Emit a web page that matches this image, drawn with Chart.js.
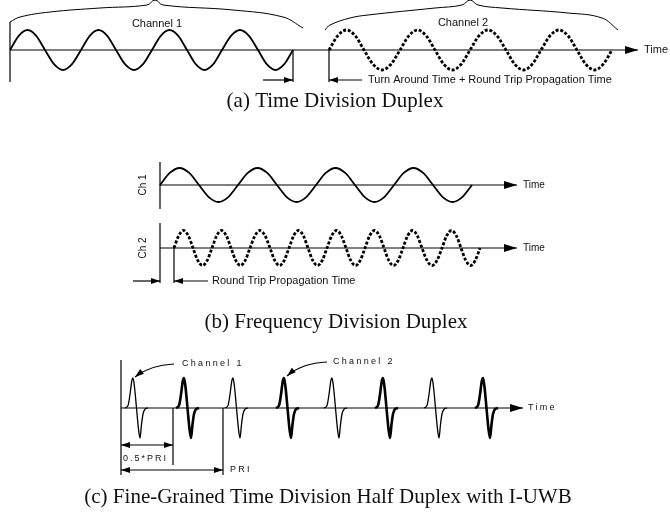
<!DOCTYPE html>
<html>
<head>
<meta charset="utf-8">
<script src="https://cdn.jsdelivr.net/npm/chart.js@4.4.1/dist/chart.umd.min.js"></script>
<style>
  html, body { margin: 0; padding: 0; background: #fff; }
  canvas { display: block; }
</style>
</head>
<body>
<canvas id="duplex" width="670" height="512"></canvas>
<script>
// (a) time division duplex - zero crossings of each burst
const tddCh1Cross = [10, 45, 81, 116, 152, 187, 222, 258, 293];
const tddCh2Cross = [329, 364, 400, 435, 470, 506, 541, 577, 612];
const tddBase = 50, tddAmp = 20;

// (b) frequency division duplex
const fddCh1Cross = [160, 199, 238, 277, 316, 355, 394, 433, 472];
const fddCh2Cross = [174, 193, 212, 231, 250, 270, 289, 308, 327, 346, 365, 384, 403, 422, 442, 461, 480];
const fddCh1Base = 185, fddCh1Amp = 17;
const fddCh2Base = 248, fddCh2Amp = 17.5;

// shape of one half cycle (fraction of half period, fraction of amplitude)
const halfShapeF = [0, 0.25, 0.5, 0.75];
const halfShapeV = [0, 0.71, 1, 0.71];

// (c) impulse radio pulses (peak positions) + monocycle shape
const pulseCh1Peaks = [133, 233, 332, 432];
const pulseCh2Peaks = [184, 284, 383, 483];
const pulseBase = 408, pulseAmp = 30;
const pulseShapeT = [-8, -5, -3, -1.2, 0, 1.5, 3.5, 5.5, 7, 8.5, 10, 12, 15];
const pulseShapeV = [0, 0.08, 0.45, 0.9, 1, 0.7, 0, -0.7, -1, -0.55, -0.2, -0.04, 0];

// braces over the TDD bursts
const brace1X = [10, 20, 50, 100, 147, 155, 163, 233, 283, 303];
const brace1Y = [22, 17, 12, 8, 5, 0, 5, 10, 17, 28];
const brace2X = [325, 330, 350, 368, 435, 462, 470, 478, 502, 568, 602, 618];
const brace2Y = [30, 25, 18, 15, 8, 5, 0, 5, 8, 13, 18, 30];

// plain lines [x1, y1, x2, y2]
const guideLines = [
  [10, 22, 10, 82], [293, 50, 293, 82], [329, 50, 329, 82],
  [160, 162, 160, 209], [160, 223, 160, 283], [174, 248, 174, 283],
  [121, 360, 121, 475], [173, 408, 173, 465], [223, 408, 223, 475]
];
// arrows [x1, y1, x2, y2, headLen, headHalf, bothEnds]
const arrows = [
  [10, 50, 638, 50, 13, 4, false],
  [263, 80, 293, 80, 9, 3, false],
  [362, 80, 329, 80, 9, 3, false],
  [160, 185, 517, 185, 13, 4, false],
  [160, 248, 517, 248, 13, 4, false],
  [133, 281, 160, 281, 9, 3, false],
  [208, 281, 174, 281, 9, 3, false],
  [121, 408, 523, 408, 13, 4, false],
  [121, 445, 173, 445, 9, 3, true],
  [121, 470, 223, 470, 9, 3, true]
];
// curved label arrows [x1, y1, cx, cy, x2, y2]
const curvedArrows = [
  [174, 364, 150, 365, 135, 377],
  [327, 362, 302, 363, 287, 376]
];

const sans = '"Liberation Sans", Arial, sans-serif';
const serif = '"Liberation Serif", "Times New Roman", serif';
const labels = [
  { t: 'Channel 1', x: 157, y: 24, f: '11px ' + sans, a: 'center' },
  { t: 'Channel 2', x: 463, y: 23, f: '11px ' + sans, a: 'center' },
  { t: 'Time', x: 644, y: 50, f: '11px ' + sans, a: 'left' },
  { t: 'Turn Around Time + Round Trip Propagation Time', x: 368, y: 80, f: '11px ' + sans, a: 'left' },
  { t: '(a) Time Division Duplex', x: 335, y: 101, f: '21px ' + serif, a: 'center' },
  { t: 'Ch 1', x: 143, y: 185, f: '10px ' + sans, a: 'center', r: true },
  { t: 'Ch 2', x: 143, y: 248, f: '10px ' + sans, a: 'center', r: true },
  { t: 'Time', x: 523, y: 185, f: '10px ' + sans, a: 'left' },
  { t: 'Time', x: 523, y: 248, f: '10px ' + sans, a: 'left' },
  { t: 'Round Trip Propagation Time', x: 212, y: 281, f: '11px ' + sans, a: 'left' },
  { t: '(b) Frequency Division Duplex', x: 336, y: 322, f: '21px ' + serif, a: 'center' },
  { t: 'Channel 1', x: 182, y: 364, f: '9px ' + sans, a: 'left', s: '2.3px' },
  { t: 'Channel 2', x: 333, y: 362, f: '9px ' + sans, a: 'left', s: '2.3px' },
  { t: 'Time', x: 528, y: 408, f: '9px ' + sans, a: 'left', s: '2.3px' },
  { t: '0.5*PRI', x: 123, y: 459, f: '9px ' + sans, a: 'left', s: '2px' },
  { t: 'PRI', x: 230, y: 470, f: '9px ' + sans, a: 'left', s: '2.3px' },
  { t: '(c) Fine-Grained Time Division Half Duplex with I-UWB', x: 328, y: 497, f: '21px ' + serif, a: 'center' }
];

function wave(cross, base, amp) {
  const pts = [];
  for (let i = 0; i < cross.length - 1; i++) {
    const sign = i % 2 === 0 ? -1 : 1;
    halfShapeF.forEach((f, k) => {
      pts.push({ x: cross[i] + f * (cross[i + 1] - cross[i]), y: base + sign * halfShapeV[k] * amp });
    });
  }
  pts.push({ x: cross[cross.length - 1], y: base });
  return pts;
}
function pulse(peak) {
  return pulseShapeT.map((t, i) => ({ x: peak + t, y: pulseBase - pulseShapeV[i] * pulseAmp }));
}
const solid = { showLine: true, borderColor: '#000', pointRadius: 0, fill: false, cubicInterpolationMode: 'monotone' };
const dotted = { ...solid, borderWidth: 2.8, borderDash: [3, 1.8] };

const datasets = [
  { ...solid, data: wave(tddCh1Cross, tddBase, tddAmp), borderWidth: 1.8 },
  { ...dotted, data: wave(tddCh2Cross, tddBase, tddAmp) },
  { ...solid, data: wave(fddCh1Cross, fddCh1Base, fddCh1Amp), borderWidth: 1.8 },
  { ...dotted, data: wave(fddCh2Cross, fddCh2Base, fddCh2Amp) },
  { ...solid, data: brace1X.map((x, i) => ({ x, y: brace1Y[i] })), borderWidth: 1, cubicInterpolationMode: 'default', tension: 0.4 },
  { ...solid, data: brace2X.map((x, i) => ({ x, y: brace2Y[i] })), borderWidth: 1, cubicInterpolationMode: 'default', tension: 0.4 }
];
pulseCh1Peaks.forEach(p => datasets.push({ ...solid, data: pulse(p), borderWidth: 1.3 }));
pulseCh2Peaks.forEach(p => datasets.push({ ...solid, data: pulse(p), borderWidth: 2.6 }));

function head(ctx, x1, y1, x2, y2, len, half) {
  const ang = Math.atan2(y2 - y1, x2 - x1);
  ctx.save();
  ctx.translate(x2, y2);
  ctx.rotate(ang);
  ctx.beginPath();
  ctx.moveTo(0, 0);
  ctx.lineTo(-len, -half);
  ctx.lineTo(-len, half);
  ctx.closePath();
  ctx.fill();
  ctx.restore();
}

const overlay = {
  id: 'overlay',
  afterDatasetsDraw(chart) {
    const { ctx, scales: { x, y } } = chart;
    const X = v => x.getPixelForValue(v), Y = v => y.getPixelForValue(v);
    ctx.save();
    ctx.strokeStyle = '#000';
    ctx.fillStyle = '#000';
    ctx.lineWidth = 1.2;
    guideLines.forEach(l => {
      ctx.beginPath();
      ctx.moveTo(X(l[0]), Y(l[1]));
      ctx.lineTo(X(l[2]), Y(l[3]));
      ctx.stroke();
    });
    arrows.forEach(a => {
      const [x1, y1, x2, y2] = [X(a[0]), Y(a[1]), X(a[2]), Y(a[3])];
      ctx.beginPath();
      ctx.moveTo(x1, y1);
      ctx.lineTo(x2, y2);
      ctx.stroke();
      head(ctx, x1, y1, x2, y2, a[4], a[5]);
      if (a[6]) head(ctx, x2, y2, x1, y1, a[4], a[5]);
    });
    curvedArrows.forEach(a => {
      ctx.beginPath();
      ctx.moveTo(X(a[0]), Y(a[1]));
      ctx.quadraticCurveTo(X(a[2]), Y(a[3]), X(a[4]), Y(a[5]));
      ctx.stroke();
      head(ctx, X(a[2]), Y(a[3]), X(a[4]), Y(a[5]), 9, 3);
    });
    ctx.textBaseline = 'middle';
    labels.forEach(l => {
      ctx.save();
      ctx.font = l.f;
      ctx.textAlign = l.a;
      ctx.fillStyle = '#111';
      ctx.letterSpacing = l.s || '0px';
      ctx.translate(X(l.x), Y(l.y));
      if (l.r) ctx.rotate(-Math.PI / 2);
      ctx.fillText(l.t, 0, 0);
      ctx.restore();
    });
    ctx.restore();
  }
};

new Chart(document.getElementById('duplex'), {
  type: 'scatter',
  data: { datasets },
  options: {
    responsive: false,
    animation: false,
    events: [],
    layout: { padding: 0 },
    plugins: { legend: { display: false }, tooltip: { enabled: false } },
    scales: {
      x: { type: 'linear', display: false, min: 0, max: 670 },
      y: { type: 'linear', display: false, min: 0, max: 512, reverse: true }
    }
  },
  plugins: [overlay]
});
</script>
</body>
</html>
